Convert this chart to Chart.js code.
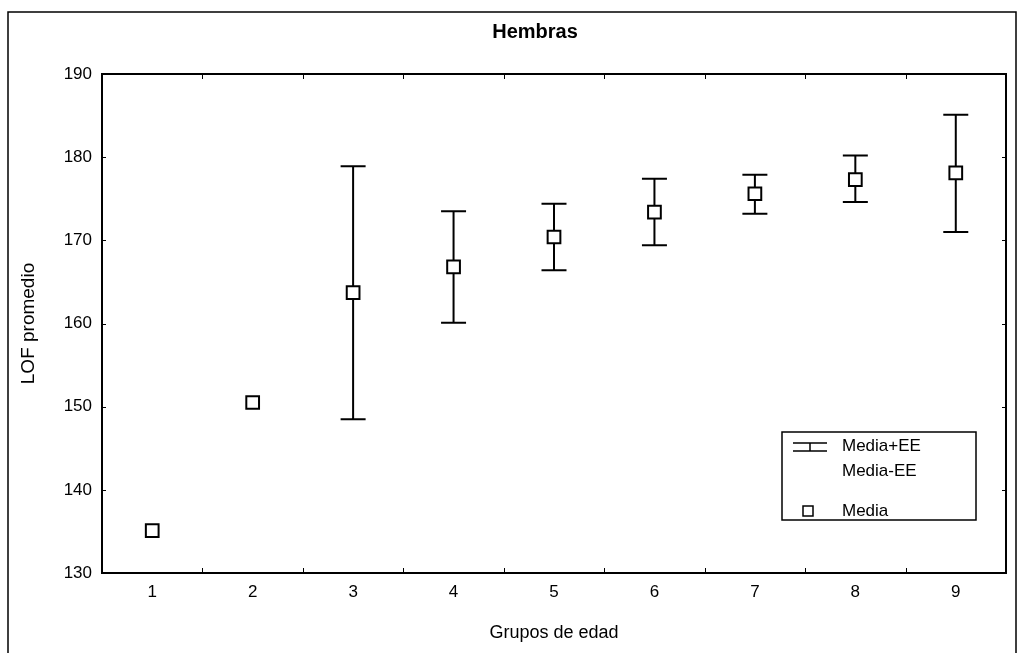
<!DOCTYPE html>
<html>
<head>
<meta charset="utf-8">
<script src="https://cdn.jsdelivr.net/npm/chart.js@4.4.0/dist/chart.umd.min.js"></script>
<style>
  html, body { margin: 0; padding: 0; background: #fff; }
  #wrap { width: 1019px; height: 653px; }
</style>
</head>
<body>
<div id="wrap"><canvas id="lofChart" width="1019" height="653"></canvas></div>
<script>
// age groups, mean LOF and mean +/- standard error
const groups = [1, 2, 3, 4, 5, 6, 7, 8, 9];
const means = [135.1, 150.5, 163.7, 166.8, 170.4, 173.4, 175.6, 177.3, 178.1];
const upper = [null, null, 178.9, 173.5, 174.4, 177.4, 177.9, 180.2, 185.1];
const lower = [null, null, 148.5, 160.1, 166.4, 169.4, 173.2, 174.6, 171.0];
const yTicks = [130, 140, 150, 160, 170, 180, 190];
const xEdges = [1.5, 2.5, 3.5, 4.5, 5.5, 6.5, 7.5, 8.5];

const FONT = '"Liberation Sans", Arial, sans-serif';
Chart.defaults.font.family = FONT;
Chart.defaults.color = '#000';

// whiskers go under the squares
const errorBars = {
    id: 'errorBars',
    beforeDatasetsDraw(chart) {
        const { ctx, scales: { x, y } } = chart;
        ctx.save();
        ctx.strokeStyle = '#000';
        ctx.lineWidth = 2;
        groups.forEach((g, i) => {
            if (upper[i] == null) return;
            const px = x.getPixelForValue(g);
            const top = y.getPixelForValue(upper[i]);
            const bot = y.getPixelForValue(lower[i]);
            ctx.beginPath();
            ctx.moveTo(px, top); ctx.lineTo(px, bot);
            ctx.moveTo(px - 12.5, top); ctx.lineTo(px + 12.5, top);
            ctx.moveTo(px - 12.5, bot); ctx.lineTo(px + 12.5, bot);
            ctx.stroke();
        });
        ctx.restore();
    }
};

// plot box with inner ticks, outer frame, title and legend
const frame = {
    id: 'frame',
    afterDraw(chart) {
        const { ctx, chartArea: a, scales: { x, y } } = chart;
        ctx.save();
        ctx.strokeStyle = '#000';

        ctx.lineWidth = 2;
        ctx.strokeRect(a.left, a.top, a.right - a.left, a.bottom - a.top);

        ctx.lineWidth = 1;
        ctx.beginPath();
        xEdges.forEach(v => {
            const px = Math.round(x.getPixelForValue(v)) + 0.5;
            ctx.moveTo(px, a.bottom); ctx.lineTo(px, a.bottom - 5);
            ctx.moveTo(px, a.top); ctx.lineTo(px, a.top + 5);
        });
        yTicks.slice(1, -1).forEach(v => {
            const py = Math.round(y.getPixelForValue(v)) + 0.5;
            ctx.moveTo(a.left, py); ctx.lineTo(a.left + 4, py);
            ctx.moveTo(a.right, py); ctx.lineTo(a.right - 4, py);
        });
        ctx.stroke();

        // outer border, open at the bottom
        ctx.lineWidth = 1.5;
        ctx.beginPath();
        ctx.moveTo(8, 653); ctx.lineTo(8, 12); ctx.lineTo(1016, 12); ctx.lineTo(1016, 653);
        ctx.stroke();

        ctx.fillStyle = '#000';
        ctx.font = 'bold 20px ' + FONT;
        ctx.textAlign = 'center';
        ctx.textBaseline = 'middle';
        ctx.fillText('Hembras', 535, 32);

        // legend
        ctx.lineWidth = 1.5;
        ctx.strokeRect(782, 432, 194, 88);
        ctx.beginPath();
        ctx.moveTo(793, 443); ctx.lineTo(827, 443);
        ctx.moveTo(810, 443); ctx.lineTo(810, 451);
        ctx.moveTo(793, 451); ctx.lineTo(827, 451);
        ctx.stroke();
        ctx.strokeRect(803, 506, 10, 10);
        ctx.font = '17px ' + FONT;
        ctx.textAlign = 'left';
        ctx.fillText('Media+EE', 842, 446);
        ctx.fillText('Media-EE', 842, 471);
        ctx.fillText('Media', 842, 511);
        ctx.restore();
    }
};

const ctx = document.getElementById('lofChart').getContext('2d');

let lofChart = new Chart(ctx, {
    type: 'scatter',
    data: {
        datasets: [{
            label: 'Media',
            data: groups.map((g, i) => ({ x: g, y: means[i] })),
            pointStyle: 'rect',
            pointRadius: 9,
            pointHoverRadius: 9,
            borderWidth: 2,
            borderColor: '#000',
            backgroundColor: '#fff',
            showLine: false
        }]
    },
    options: {
        responsive: false,
        animation: false,
        layout: { padding: { left: 0, top: 74, right: 13, bottom: 0 } },
        plugins: {
            legend: { display: false },
            tooltip: { enabled: false }
        },
        scales: {
            x: {
                type: 'linear',
                min: 0.5,
                max: 9.5,
                afterBuildTicks: s => { s.ticks = groups.map(v => ({ value: v })); },
                afterFit: s => { s.height = 80; },
                grid: { display: false, drawTicks: false },
                border: { display: false },
                ticks: { padding: 9, font: { size: 17 }, color: '#000' },
                title: { display: true, text: 'Grupos de edad', font: { size: 18 }, color: '#000', padding: { top: 0, bottom: 9 } }
            },
            y: {
                min: 130,
                max: 190,
                afterBuildTicks: s => { s.ticks = yTicks.map(v => ({ value: v })); },
                afterFit: s => { s.width = 102; },
                grid: { display: false, drawTicks: false },
                border: { display: false },
                ticks: { padding: 10, font: { size: 17 }, color: '#000' },
                title: { display: true, text: 'LOF promedio', font: { size: 19 }, color: '#000', padding: { top: 17, bottom: 0 } }
            }
        }
    },
    plugins: [errorBars, frame]
});
</script>
</body>
</html>
